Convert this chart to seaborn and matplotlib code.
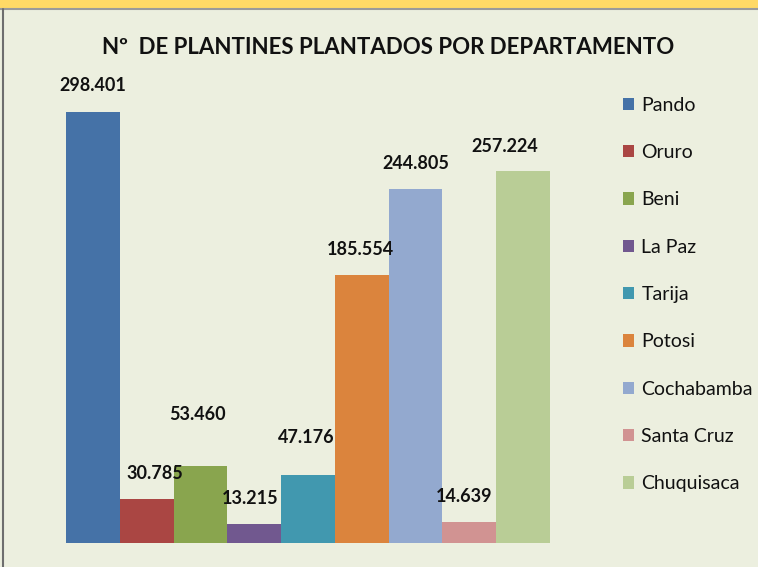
import matplotlib.pyplot as plt
import seaborn as sns
from matplotlib.patches import Rectangle, Patch
from matplotlib.lines import Line2D

departamentos = ["Pando", "Oruro", "Beni", "La Paz", "Tarija", "Potosi",
                 "Cochabamba", "Santa Cruz", "Chuquisaca"]
plantines = [298401, 30785, 53460, 13215, 47176, 185554, 244805, 14639, 257224]
etiquetas = ["298.401", "30.785", "53.460", "13.215", "47.176", "185.554",
             "244.805", "14.639", "257.224"]
colores = ["#4572A7", "#AA4643", "#89A54E", "#71588F", "#4198AF",
           "#DB843D", "#93A9CF", "#D19392", "#B9CD96"]

sns.set_theme(style="white")
plt.rcParams['font.family'] = ['Lato', 'DejaVu Sans']

fondo = "#ECEFDF"
fig = plt.figure(figsize=(7.58, 5.67), dpi=100)
fig.patch.set_facecolor(fondo)

# borde superior amarillo y borde izquierdo
fig.add_artist(Rectangle((0, 1 - 8 / 567), 1, 8 / 567, transform=fig.transFigure,
                         facecolor="#FFD966", edgecolor="none"))
fig.add_artist(Line2D([0, 1], [1 - 9 / 567] * 2, transform=fig.transFigure,
                      color="#9A9A9A", lw=1.5))
fig.add_artist(Line2D([3 / 758] * 2, [0, 1 - 9 / 567], transform=fig.transFigure,
                      color="#6E6E6E", lw=1.5))

ax = fig.add_axes([66 / 758, 24 / 567, (550 - 66) / 758, (543 - 60) / 567])
ax.set_facecolor(fondo)

sns.barplot(x=departamentos, y=plantines, hue=departamentos, palette=colores,
            width=1, legend=False, ax=ax, saturation=1, linewidth=0)

ax.set_xlim(-0.5, len(departamentos) - 0.5)
ax.set_ylim(0, 298401 * 483 / 431)
for s in ax.spines.values():
    s.set_visible(False)
ax.set_xticks([])
ax.set_yticks([])

# desplazamiento de etiquetas (puntos)
dx = [0, 6, -2, -3, -1, -1, 0, -4, -13]
dy = [19, 18, 37, 18, 27, 18, 19, 18, 18]
for i, (v, t) in enumerate(zip(plantines, etiquetas)):
    ax.annotate(t, (i, v), xytext=(dx[i], dy[i]), textcoords="offset points",
                ha="center", va="center", fontsize=13, fontweight="bold",
                color="#111111")

fig.text(388 / 758, 1 - 47 / 567, "Nº  DE PLANTINES PLANTADOS POR DEPARTAMENTO",
         ha="center", va="center", fontsize=16, fontweight="bold", color="#111111")

handles = [Patch(facecolor=c, edgecolor="none") for c in colores]
fig.legend(handles, departamentos, loc="upper left",
           bbox_to_anchor=(615 / 758, 1 - 89 / 567), frameon=False,
           fontsize=14, handlelength=0.6, handleheight=0.6, handletextpad=0.35,
           labelspacing=1.56, labelcolor="#111111", borderaxespad=0)

fig.savefig("out.png", dpi=100, facecolor=fondo)
